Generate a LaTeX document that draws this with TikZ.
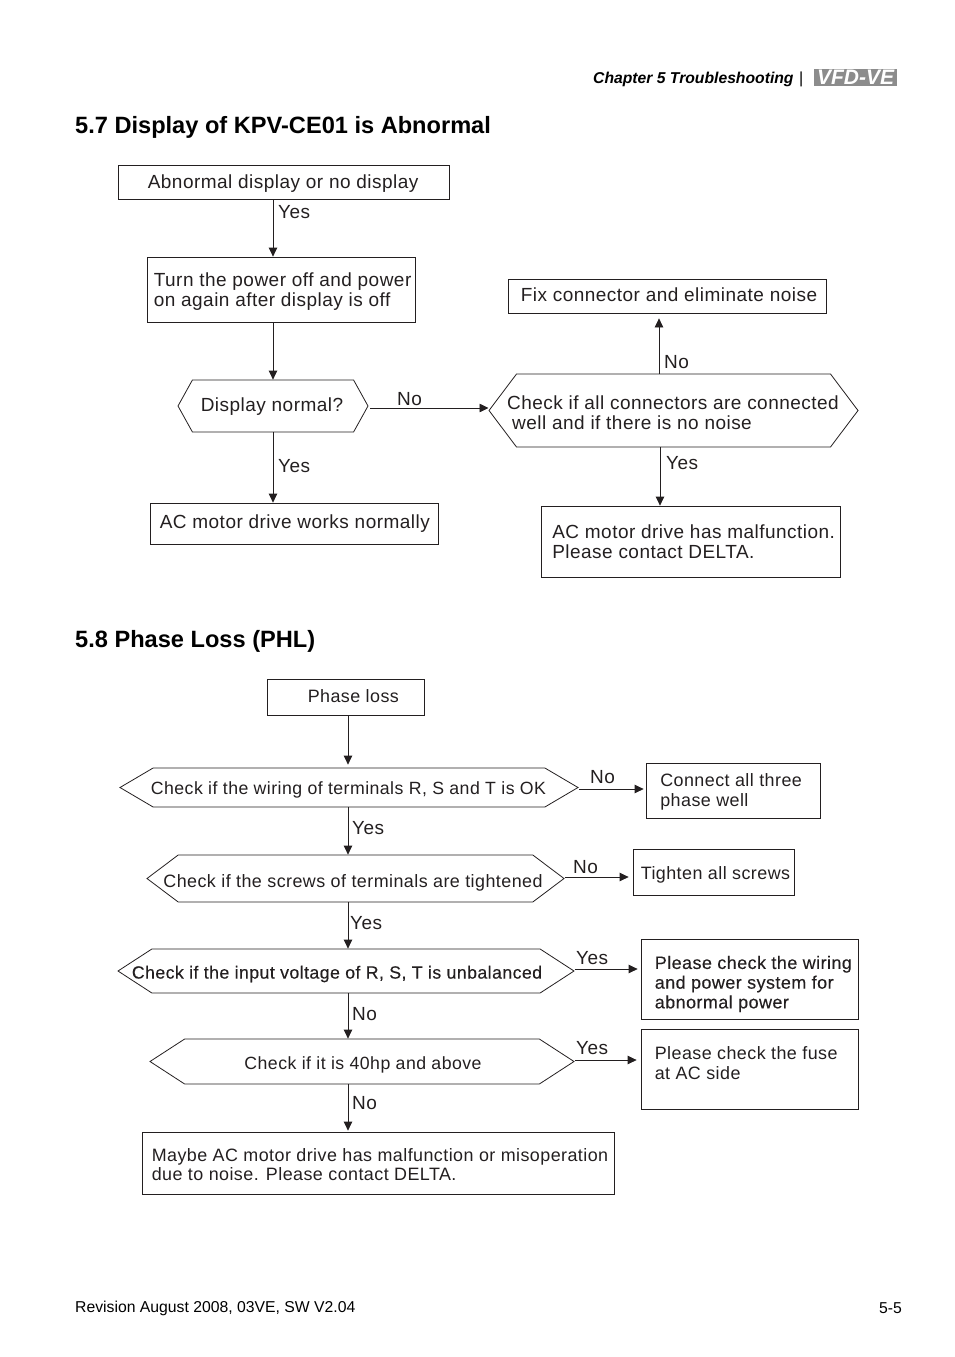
\documentclass[tikz,border=0pt]{standalone}
\usepackage{fontspec}
\setmainfont{Liberation Sans}
\newfontfamily\flowfont[LetterSpace=2.5]{Liberation Sans}
\newfontfamily\flowheavy[LetterSpace=2.5,FakeBold=0.25]{Liberation Sans}
\usetikzlibrary{arrows.meta, positioning, shapes.symbols}
\definecolor{inkcol}{HTML}{231F20}
\tikzset{
	flowbox/.style 2 args={draw=inkcol, line width=.8pt, inner sep=0pt, minimum width=#1, minimum height=#2},
	hexa/.style 2 args={draw=inkcol, line width=.8pt, signal, signal to=west and east, inner sep=0pt, minimum width=#1, minimum height=#2},
	boxtext/.style={text=inkcol, inner sep=0pt, align=left, font=\flowfont\fontsize{19}{20}\selectfont},
	smalltext/.style={text=inkcol, inner sep=0pt, align=left, font=\flowfont\fontsize{#1}{19.7}\selectfont},
	smalltext/.default=17.9,
	heavytext/.style={text=inkcol, inner sep=0pt, align=left, font=\flowheavy\fontsize{#1}{19.7}\selectfont},
	heavytext/.default=17.95,
	flowtag/.style={text=inkcol, inner sep=0pt, anchor=west, font=\flowfont\fontsize{19}{20}\selectfont},
	flow/.style={draw=inkcol, line width=.8pt, -{Triangle[length=9pt,width=8.5pt]}},
	heading/.style={inner sep=0pt, anchor=west, font=\bfseries\fontsize{23.6}{28}\selectfont}
}
\begin{document}
\begin{tikzpicture}[x=1pt,y=-1pt]
	\useasboundingbox (0,0) rectangle (954,1357);
	% page header
	\node[inner sep=0pt, anchor=west, font=\bfseries\itshape\fontsize{15.7}{18}\selectfont] (chapter) at (593,79) {Chapter 5 Troubleshooting};
	\node[inner sep=0pt, anchor=west, font=\fontsize{16}{18}\selectfont] (bar) at (799,79) {|};
	\node[fill=black!45, text=white, inner sep=0pt, minimum width=83pt, minimum height=17pt, font=\bfseries\itshape\fontsize{21}{18}\selectfont] (logo) at (855.5,77.5) {VFD-VE};
	\node[heading] (title1) at (75,127) {5.7 Display of KPV-CE01 is Abnormal};
	\node[heading] (title2) at (75,641) {5.8 Phase Loss (PHL)};

	% first chart
	\node[flowbox={331pt}{34pt}] (abnormal) at (283.5,182) {};
	\node[boxtext, right=30pt of abnormal.west, yshift=-1.5pt] (abnormaltext) {Abnormal display or no display};
	\node[flowbox={268pt}{65pt}] (restart) at (281,289.5) {};
	\node[boxtext, right=7pt of restart.west, yshift=-2pt] (restarttext) {Turn the power off and power\\on again after display is off};
	\node[hexa={190pt}{52pt}, signal pointer angle=122] (normal) at (273,406) {};
	\node[boxtext] (normaltext) at (272,407) {Display normal?};
	\node[flowbox={288pt}{41pt}] (works) at (294,523.5) {};
	\node[boxtext, right=10pt of works.west] (workstext) {AC motor drive works normally};
	\node[flowbox={318pt}{34pt}] (fixnoise) at (667,296) {};
	\node[boxtext, right=13pt of fixnoise.west, yshift=1pt] (fixnoisetext) {Fix connector and eliminate noise};
	\node[hexa={369pt}{73pt}, signal pointer angle=106] (connectors) at (673.5,410.5) {};
	\node[boxtext] (connectorstext) at (673,413) {Check if all connectors are connected\\\hspace*{5pt}well and if there is no noise};
	\node[flowbox={299pt}{71pt}] (malfunction) at (690.5,541.5) {};
	\node[boxtext, right=11.5pt of malfunction.west] (malfunctiontext) {AC motor drive has malfunction.\\Please contact DELTA.};

	\draw[flow] (abnormal.south -| 273,0) -- (restart.north -| 273,0);
	\draw[flow] (restart.south -| 273,0) -- (normal.north);
	\draw[flow] (normal.south) -- (works.north -| 273,0);
	\draw[flow, shorten <=2pt] (normal.east |- 0,408) -- (connectors.west |- 0,408);
	\draw[flow, shorten >=5pt] (connectors.north -| 659,0) -- (fixnoise.south -| 659,0);
	\draw[flow] (connectors.south -| 660,0) -- (malfunction.north -| 660,0);

	\node[flowtag] (yes1) at (278,212) {Yes};
	\node[flowtag] (yes2) at (278,466) {Yes};
	\node[flowtag] (no1) at (397,399.5) {No};
	\node[flowtag] (no2) at (664,362.5) {No};
	\node[flowtag] (yes3) at (666,463) {Yes};

	% second chart
	\node[flowbox={157pt}{36pt}] (phase) at (345.5,697) {};
	\node[smalltext, right=41pt of phase.west, yshift=1pt] (phasetext) {Phase loss};
	\node[hexa={458pt}{39pt}, signal pointer angle=61] (wiring) at (349,787.5) {};
	\node[smalltext=17.7] (wiringtext) at (348.5,790) {Check if the wiring of terminals R, S and T is OK};
	\node[flowbox={174pt}{55pt}] (connect) at (733,790.5) {};
	\node[smalltext, right=14.5pt of connect.west, yshift=-1.5pt] (connecttext) {Connect all three\\phase well};
	\node[hexa={417pt}{47pt}, signal pointer angle=74] (screws) at (355.5,878.5) {};
	\node[smalltext] (screwstext) at (353,883) {Check if the screws of terminals are tightened};
	\node[flowbox={161pt}{46pt}] (tighten) at (713.5,872) {};
	\node[smalltext, right=8pt of tighten.west, yshift=-3pt] (tightentext) {Tighten all screws};
	\node[hexa={456pt}{44pt}, signal pointer angle=66] (voltage) at (346,971) {};
	\node[heavytext=17.7] (voltagetext) at (337,974) {Check if the input voltage of R, S, T is unbalanced};
	\node[flowbox={217pt}{80pt}] (power) at (749.5,979) {};
	\node[heavytext, right=14pt of power.west, yshift=-5pt] (powertext) {Please check the wiring\\and power system for\\abnormal power};
	\node[hexa={424pt}{45pt}, signal pointer angle=66] (hp) at (362,1061.5) {};
	\node[smalltext=17.7] (hptext) at (363,1065) {Check if it is 40hp and above};
	\node[flowbox={217pt}{80pt}] (fuse) at (749.5,1069) {};
	\node[smalltext, right=14pt of fuse.west, yshift=6pt] (fusetext) {Please check the fuse\\at AC side};
	\node[flowbox={472pt}{62pt}] (contact) at (378,1163) {};
	\node[smalltext, right=10pt of contact.west, yshift=-1.5pt] (contacttext) {Maybe AC motor drive has malfunction or misoperation\\due to noise. Please contact DELTA.};

	\draw[flow, shorten >=3pt] (phase.south -| 348,0) -- (wiring.north -| 348,0);
	\draw[flow] (wiring.south -| 348,0) -- (screws.north -| 348,0);
	\draw[flow] (screws.south -| 348,0) -- (voltage.north -| 348,0);
	\draw[flow] (voltage.south -| 348,0) -- (hp.north -| 348,0);
	\draw[flow, shorten >=1pt] (hp.south -| 348,0) -- (contact.north -| 348,0);
	\draw[flow, shorten >=2pt] (wiring.east |- 0,789) -- (connect.west |- 0,789);
	\draw[flow, shorten >=4pt] (screws.east |- 0,877) -- (tighten.west |- 0,877);
	\draw[flow, shorten >=3pt] (voltage.east |- 0,969) -- (power.west |- 0,969);
	\draw[flow, shorten >=4pt] (hp.east |- 0,1060) -- (fuse.west |- 0,1060);

	\node[flowtag] (yes4) at (352,828.5) {Yes};
	\node[flowtag] (no3) at (590,777.5) {No};
	\node[flowtag] (yes5) at (350,923.5) {Yes};
	\node[flowtag] (no4) at (573,867.5) {No};
	\node[flowtag] (no5) at (352,1014) {No};
	\node[flowtag] (yes6) at (576,958.5) {Yes};
	\node[flowtag] (no6) at (352,1103.5) {No};
	\node[flowtag] (yes7) at (576,1048.5) {Yes};

	% page footer
	\node[inner sep=0pt, anchor=west, font=\fontsize{15.75}{18}\selectfont] (revision) at (75,1308) {Revision August 2008, 03VE, SW V2.04};
	\node[inner sep=0pt, anchor=east, font=\fontsize{15.75}{18}\selectfont] (page) at (902,1308) {5-5};
\end{tikzpicture}
\end{document}
